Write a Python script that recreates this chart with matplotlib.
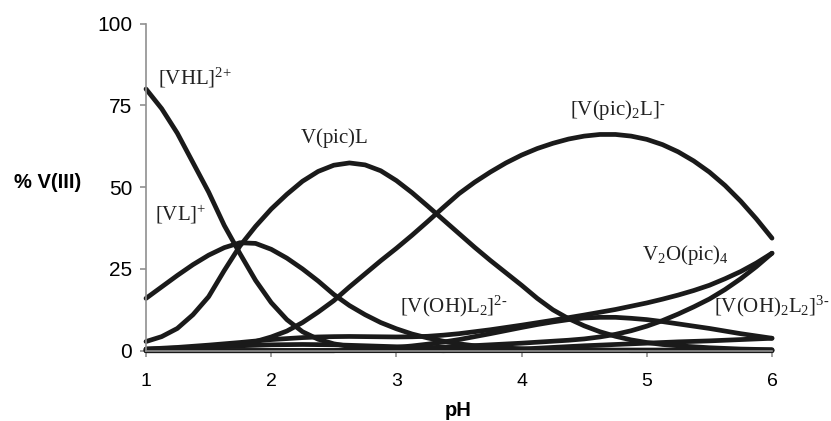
# species distribution, V(III) - picolinate system
import numpy as np
import matplotlib
matplotlib.use('Agg')
import matplotlib.pyplot as plt

plt.rcParams['mathtext.fontset'] = 'custom'
plt.rcParams['mathtext.rm'] = 'Liberation Serif'
plt.rcParams['mathtext.it'] = 'Liberation Serif:italic'

# pH grid (values read every 0.125)
ph = [1.0, 1.125, 1.25, 1.375, 1.5, 1.625, 1.75, 1.875, 2.0, 2.125,
      2.25, 2.375, 2.5, 2.625, 2.75, 2.875, 3.0, 3.125, 3.25, 3.375,
      3.5, 3.625, 3.75, 3.875, 4.0, 4.125, 4.25, 4.375, 4.5, 4.625,
      4.75, 4.875, 5.0, 5.125, 5.25, 5.375, 5.5, 5.625, 5.75, 5.875, 6.0]

vhl = [80, 74, 66.5, 57.5, 48.5, 38.3, 29.7, 21.5, 14.7, 9.5,
       5.8, 3.5, 2.1, 1.3, 0.8, 0.5, 0.3, 0.2, 0.1, 0,
       0, 0, 0, 0, 0, 0, 0, 0, 0, 0,
       0, 0, 0, 0, 0, 0, 0, 0, 0, 0, 0]
vl = [16, 19.5, 23, 26.3, 29.2, 31.5, 33, 32.8, 31, 28.3,
      25, 21.3, 17.2, 13.8, 11, 8.6, 6.7, 5.1, 3.9, 2.9,
      2.1, 1.5, 1.1, 0.8, 0.6, 0.4, 0.3, 0.2, 0.15, 0.1,
      0.1, 0, 0, 0, 0, 0, 0, 0, 0, 0, 0]
vpicl = [2.8, 4.3, 6.8, 11, 16.5, 24.5, 32, 38, 43.3, 47.8,
         51.8, 54.8, 56.7, 57.4, 56.8, 55, 52, 48.3, 44.2, 40,
         35.8, 31.6, 27.6, 23.8, 20, 16, 12.5, 9.8, 7.6, 5.8,
         4.4, 3.3, 2.5, 1.9, 1.5, 1.2, 0.9, 0.7, 0.5, 0.4, 0.3]
vpic2l = [0.3, 0.4, 0.6, 0.8, 1.0, 1.3, 2.0, 2.8, 4.2, 6.0,
          8.6, 11.8, 15.3, 19.5, 23.5, 27.5, 31.3, 35.3, 39.5, 43.8,
          48, 51.5, 54.6, 57.4, 59.8, 61.8, 63.4, 64.7, 65.6, 66.1,
          66.1, 65.6, 64.6, 63, 60.8, 58, 54.6, 50.5, 45.7, 40.3, 34.4]
v2opic4 = [0.5, 0.75, 1.0, 1.35, 1.7, 2.1, 2.5, 2.95, 3.4, 3.7,
           4.0, 4.2, 4.3, 4.35, 4.3, 4.25, 4.2, 4.25, 4.4, 4.75,
           5.2, 5.8, 6.4, 7.1, 7.8, 8.55, 9.3, 10.1, 10.9, 11.75,
           12.6, 13.6, 14.6, 15.75, 17, 18.4, 20, 22, 24.2, 26.8, 29.8]
other = [0, 0, 0, 0, 0, 0, 0, 0, 0, 0,
         0, 0, 0, 0.2, 0.4, 0.5, 0.6, 0.75, 0.9, 1.1,
         1.3, 1.55, 1.8, 2.05, 2.3, 2.6, 2.9, 3.2, 3.6, 4.2,
         5.0, 6.1, 7.5, 9.2, 11.2, 13.4, 15.8, 18.7, 22, 25.7, 29.8]
vohl2 = [0, 0, 0, 0, 0, 0, 0, 0, 0, 0,
         0, 0, 0, 0.2, 0.4, 0.7, 1.0, 1.45, 2.0, 2.65,
         3.4, 4.3, 5.2, 6.15, 7.1, 8.0, 8.8, 9.5, 10.0, 10.2,
         10.2, 9.9, 9.5, 8.9, 8.2, 7.5, 6.8, 6.0, 5.2, 4.5, 3.8]
voh2l2 = [0, 0, 0, 0, 0, 0, 0, 0, 0, 0,
          0, 0, 0, 0, 0, 0, 0, 0, 0, 0,
          0.1, 0.2, 0.3, 0.4, 0.5, 0.75, 1.0, 1.25, 1.5, 1.7,
          1.9, 2.1, 2.3, 2.5, 2.7, 2.85, 3.0, 3.2, 3.4, 3.6, 3.8]
low = [0.5, 0.65, 0.8, 1.0, 1.2, 1.35, 1.5, 1.65, 1.8, 1.85,
       1.9, 1.85, 1.8, 1.65, 1.5, 1.35, 1.2, 1.05, 0.9, 0.8,
       0.7, 0.6, 0.5, 0.45, 0.4, 0.35, 0.3, 0.3, 0.3, 0.25,
       0.2, 0.2, 0.2, 0.2, 0.2, 0.2, 0.2, 0.2, 0.2, 0.2, 0.2]

curves = [vhl, vl, vpicl, vpic2l, v2opic4, other, vohl2, voh2l2, low]

fig = plt.figure(figsize=(8.31, 4.21), dpi=100)
ax = fig.add_axes([0.1757, 0.167, 0.7533, 0.777])

for c in curves:
    ax.plot(ph, c, color='#1a1a1a', lw=3.4, solid_capstyle='round',
            solid_joinstyle='round', clip_on=False)

ax.set_xlim(1, 6)
ax.set_ylim(0, 100)
ax.set_xticks([1, 2, 3, 4, 5, 6])
ax.set_yticks([0, 25, 50, 75, 100])
for s in ['top', 'right']:
    ax.spines[s].set_visible(False)
for s in ['left', 'bottom']:
    ax.spines[s].set_color('#909090')
    ax.spines[s].set_linewidth(1.2)
ax.tick_params(axis='both', colors='#909090', labelcolor='black',
               length=4, width=1.2, direction='out')
ax.tick_params(axis='x', pad=12, labelsize=14)
ax.tick_params(axis='y', pad=6, labelsize=15)
for lab in ax.get_xticklabels() + ax.get_yticklabels():
    lab.set_family('Liberation Sans')

fig.text(48 / 831, 1 - 183 / 421, '% V(III)', fontsize=14.5, fontweight='bold',
         family='Liberation Sans', ha='center', va='center')
fig.text(458 / 831, 1 - 411 / 421, 'pH', fontsize=14.5, fontweight='bold',
         family='Liberation Sans', ha='center', va='center')

fs = 15
ax.text(1.096, 83.4, r'$\mathrm{[VHL]^{2{+}}}$', fontsize=fs, va='center', color='#222222')
ax.text(1.07, 41.5, r'$\mathrm{[VL]^{{+}}}$', fontsize=fs, va='center', color='#222222')
ax.text(2.23, 65.0, r'$\mathrm{V(pic)L}$', fontsize=fs, va='center', color='#222222')
ax.text(4.39, 73.5, r'$\mathrm{[V(pic)_2L]^{\text{-}}}$', fontsize=fs, va='center', color='#222222')
ax.text(4.96, 29.3, r'$\mathrm{V_2O(pic)_4}$', fontsize=fs, va='center', color='#222222')
ax.text(3.03, 13.5, r'$\mathrm{[V(OH)L_2]^{2\text{-}}}$', fontsize=fs, va='center', color='#222222')
ax.text(5.54, 13.5, r'$\mathrm{[V(OH)_2L_2]^{3\text{-}}}$', fontsize=fs, va='center', color='#222222',
        clip_on=False)

plt.savefig('out.png', dpi=100)
